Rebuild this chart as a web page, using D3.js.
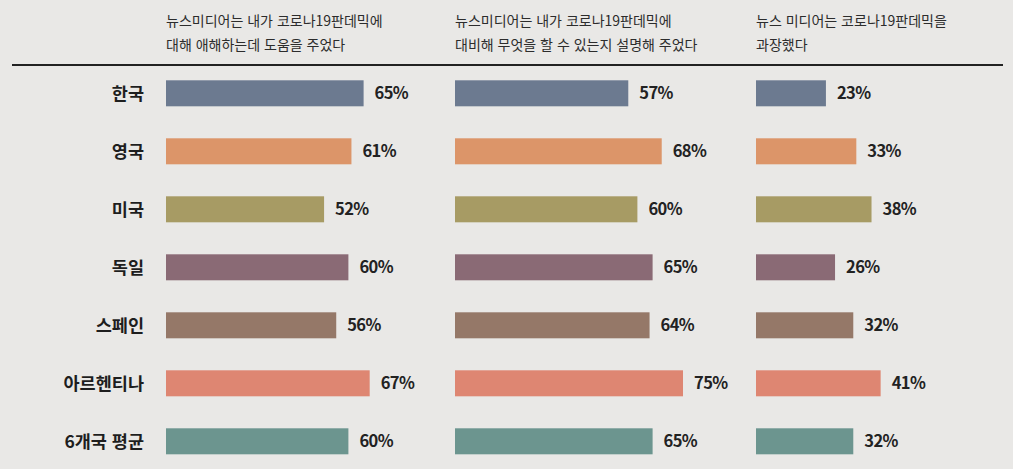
<!DOCTYPE html>
<html lang="ko">
<head>
<meta charset="utf-8">
<script src="https://cdn.jsdelivr.net/npm/d3@7"></script>
<style>
  html, body { margin: 0; padding: 0; background: #e9e8e6; }
  svg { display: block; font-family: "Noto Sans CJK KR", "Noto Sans", sans-serif; }
</style>
</head>
<body>
<div id="chart"></div>
<script>
// data
const countries = ['한국', '영국', '미국', '독일', '스페인', '아르헨티나', '6개국 평균'];
const colors = ['#6c7a90', '#dc9569', '#a79b64', '#8a6a75', '#957868', '#de8672', '#6c958f'];

const questions = [
  ['뉴스미디어는 내가 코로나19판데믹에', '대해 애해하는데 도움을 주었다'],
  ['뉴스미디어는 내가 코로나19판데믹에', '대비해 무엇을 할 수 있는지 설명해 주었다'],
  ['뉴스 미디어는 코로나19판데믹을', '과장했다']
];

const helped = [65, 61, 52, 60, 56, 67, 60];
const explained = [57, 68, 60, 65, 64, 75, 65];
const exaggerated = [23, 33, 38, 26, 32, 41, 32];
const series = [helped, explained, exaggerated];

const width = 1013;
const height = 469;
const panelX = [166, 455, 756];
const barH = 26;

const svg = d3.select('#chart')
  .append('svg')
  .attr('width', width)
  .attr('height', height);

const x = d3.scaleLinear().domain([0, 100]).range([0, 304]);
const y = d3.scalePoint().domain(countries).range([93.3, 441.3]);
const color = d3.scaleOrdinal().domain(countries).range(colors);

// column headers
questions.forEach((lines, i) => {
  const t = svg.append('text')
    .attr('x', panelX[i])
    .attr('fill', '#2c2c2c')
    .style('font-size', '14px');
  lines.forEach((line, j) => {
    t.append('tspan')
      .attr('x', panelX[i])
      .attr('y', 26 + j * 24)
      .text(line);
  });
});

// rule under headers
svg.append('line')
  .attr('x1', 12).attr('x2', 1003)
  .attr('y1', 65).attr('y2', 65)
  .attr('stroke', '#222')
  .attr('stroke-width', 2);

// country labels
svg.append('g')
  .selectAll('text')
  .data(countries)
  .join('text')
  .attr('x', 144)
  .attr('y', d => y(d))
  .attr('dy', '0.36em')
  .attr('text-anchor', 'end')
  .attr('fill', '#1e1e1e')
  .style('font-size', '17.5px')
  .style('font-weight', 700)
  .text(d => d);

// bars + value labels per panel
series.forEach((values, i) => {
  const g = svg.append('g').attr('transform', `translate(${panelX[i]},0)`);
  const rows = countries.map((c, k) => ({ country: c, value: values[k] }));

  g.selectAll('rect')
    .data(rows)
    .join('rect')
    .attr('x', 0)
    .attr('y', d => y(d.country) - barH / 2)
    .attr('width', d => x(d.value))
    .attr('height', barH)
    .attr('fill', d => color(d.country));

  g.selectAll('text')
    .data(rows)
    .join('text')
    .attr('x', d => x(d.value) + 11)
    .attr('y', d => y(d.country))
    .attr('dy', '0.36em')
    .attr('fill', '#222')
    .style('font-size', '16.5px')
    .style('font-weight', 700)
    .style('letter-spacing', '-0.6px')
    .text(d => d.value + '%');
});
</script>
</body>
</html>
